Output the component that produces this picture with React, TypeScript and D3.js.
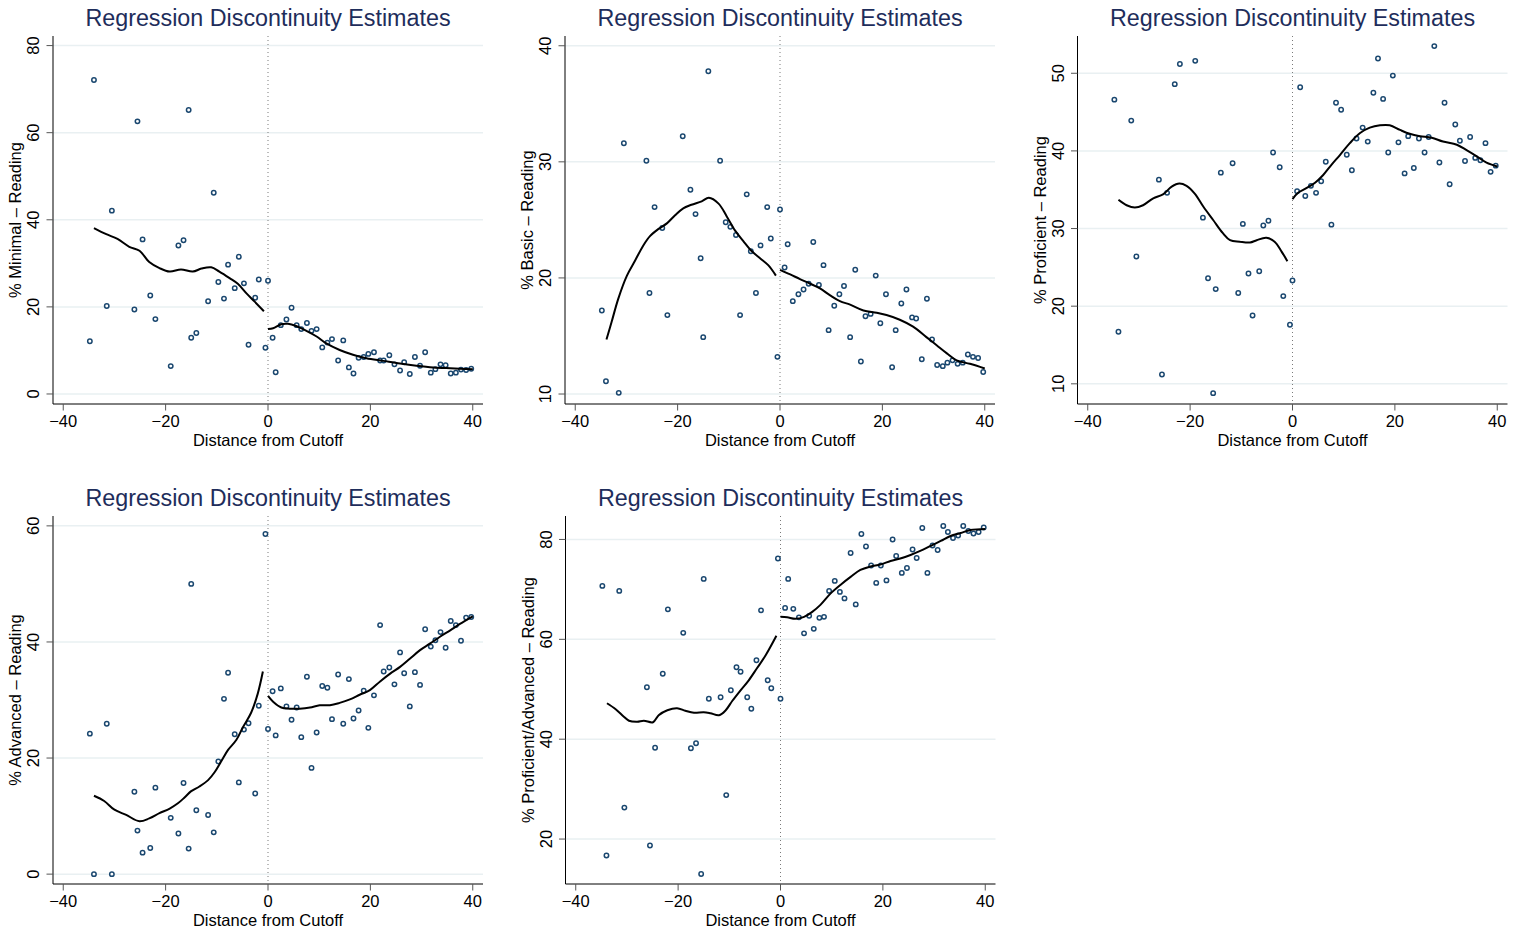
import React from "react";
import * as d3 from "d3";

// Shared bin positions (distance from cutoff)
const distance = [
  -34.8, -34.0, -31.5, -30.5, -26.1, -25.5, -24.5, -23.0, -22.0, -19.0,
  -17.5, -16.5, -15.5, -15.0, -14.0, -11.7, -10.6, -9.7, -8.6, -7.8,
  -6.5, -5.7, -4.7, -3.8, -2.5, -1.8, -0.5, 0,
  0.9, 1.5, 2.5, 3.6, 4.6, 5.6, 6.5, 7.6, 8.5, 9.5,
  10.6, 11.6, 12.5, 13.7, 14.7, 15.8, 16.7, 17.7, 18.7, 19.6,
  20.7, 21.9, 22.6, 23.7, 24.7, 25.8, 26.6, 27.7, 28.7, 29.7,
  30.7, 31.8, 32.7, 33.7, 34.7, 35.7, 36.7, 37.7, 38.7, 39.7,
];

const minimal = [
  12.1, 72.1, 20.2, 42.1, 19.4, 62.6, 35.5, 22.6, 17.2, 6.4,
  34.1, 35.3, 65.2, 12.9, 14.0, 21.3, 46.2, 25.7, 21.9, 29.7,
  24.3, 31.5, 25.4, 11.3, 22.1, 26.3, 10.6, 26.0,
  12.9, 5.0, 15.8, 17.1, 19.8, 15.8, 14.9, 16.3, 14.5, 14.9,
  10.7, 11.8, 12.6, 7.7, 12.3, 6.1, 4.7, 8.3, 8.5, 9.2,
  9.6, 7.7, 7.7, 8.9, 6.8, 5.4, 7.3, 4.6, 8.5, 6.5,
  9.6, 4.9, 5.7, 6.8, 6.6, 4.7, 4.9, 5.6, 5.5, 5.8,
];

const basic = [
  17.2, 11.1, 10.1, 31.6, 30.1, 18.7, 26.1, 24.3, 16.8, 32.2,
  27.6, 25.5, 21.7, 14.9, 37.8, 30.1, 24.8, 24.4, 23.7, 16.8,
  27.2, 22.3, 18.7, 22.8, 26.1, 23.4, 13.2, 25.9,
  20.9, 22.9, 18.0, 18.6, 19.0, 19.5, 23.1, 19.4, 21.1, 15.5,
  17.6, 18.6, 19.3, 14.9, 20.7, 12.8, 16.7, 16.9, 20.2, 16.1,
  18.6, 12.3, 15.5, 17.8, 19.0, 16.6, 16.5, 13.0, 18.2, 14.7,
  12.5, 12.4, 12.7, 12.9, 12.6, 12.7, 13.4, 13.2, 13.1, 11.9,
];

const proficient = [
  46.6, 16.7, 43.9, 26.4, 36.3, 11.2, 34.6, 48.6, 51.2, 51.6,
  31.4, 23.6, 8.8, 22.2, 37.2, 38.4, 21.7, 30.6, 24.2, 18.8,
  24.5, 30.4, 31.0, 39.8, 37.9, 21.3, 17.6, 23.3,
  34.8, 48.2, 34.2, 35.5, 34.6, 36.1, 38.6, 30.5, 46.2, 45.3,
  39.5, 37.5, 41.6, 43.0, 41.2, 47.5, 51.9, 46.7, 39.8, 49.7,
  41.1, 37.1, 41.9, 37.8, 41.6, 39.8, 41.8, 53.5, 38.5, 46.2,
  35.7, 43.4, 41.3, 38.7, 41.8, 39.1, 38.8, 41.0, 37.3, 38.1,
];

const advanced = [
  24.2, 0, 25.9, 0, 14.2, 7.5, 3.7, 4.5, 14.9, 9.7,
  7.0, 15.7, 4.4, 50.0, 11.0, 10.2, 7.2, 19.4, 30.2, 34.7,
  24.1, 15.8, 24.9, 26.0, 13.9, 29.0, 58.6, 25.0,
  31.5, 23.9, 32.0, 28.9, 26.6, 28.7, 23.6, 34.0, 18.3, 24.4,
  32.4, 32.1, 26.7, 34.4, 25.9, 33.6, 26.8, 28.2, 31.6, 25.2,
  30.8, 42.9, 34.9, 35.6, 32.7, 38.2, 34.6, 28.9, 34.8, 32.6,
  42.2, 39.2, 40.3, 41.7, 39.0, 43.6, 42.9, 40.2, 44.2, 44.3,
];

const profAdv = [
  70.7, 16.7, 69.7, 26.3, 50.4, 18.7, 38.3, 53.1, 66.0, 61.3,
  38.2, 39.2, 13.0, 72.1, 48.1, 48.4, 28.8, 49.8, 54.4, 53.5,
  48.4, 46.1, 55.8, 65.8, 51.8, 50.2, 76.2, 48.1,
  66.3, 72.1, 66.1, 64.4, 61.2, 64.7, 62.1, 64.3, 64.5, 69.7,
  71.7, 69.5, 68.2, 77.3, 67.0, 81.1, 78.6, 74.8, 71.3, 74.8,
  71.8, 80.0, 76.7, 73.3, 74.3, 78.0, 76.3, 82.3, 73.3, 78.8,
  77.9, 82.7, 81.5, 80.3, 80.8, 82.7, 81.7, 81.2, 81.5, 82.4,
];

type Pt = [number, number];

const minimalFitLeft: Pt[] = [[-34,38.1],[-31.6,36.7],[-29.4,35.6],[-27.1,33.8],[-25.1,32.9],[-23.2,30.3],[-21.2,28.9],[-19.2,28.1],[-17,28.6],[-14.7,28.1],[-13,28.8],[-11.1,29.1],[-9.5,28.1],[-7.5,26.6],[-5.9,25.3],[-4.2,23.1],[-2.6,21.2],[-0.8,19.0]];
const minimalFitRight: Pt[] = [[0,14.9],[1,15.1],[2.6,16.0],[3.9,16.1],[5.5,15.6],[7.5,14.5],[9.5,13.2],[11.4,11.6],[14,10.1],[16.6,9.0],[19.2,8.2],[22.5,7.6],[25.8,7.0],[29,6.5],[32.3,6.1],[35.6,5.9],[40,5.7]];

const basicFitLeft: Pt[] = [[-33.9,14.7],[-32.9,16.2],[-31.6,18.2],[-29.9,20.2],[-28.3,21.5],[-26.7,22.8],[-25.4,23.6],[-23.8,24.2],[-22.1,24.7],[-20.5,25.4],[-18.9,26.0],[-17.3,26.3],[-15.3,26.6],[-13.9,26.9],[-12.0,26.4],[-10.4,25.3],[-8.8,24.1],[-7.2,23.2],[-5.5,22.3],[-3.9,21.7],[-2.3,21.1],[-0.8,20.2]];
const basicFitRight: Pt[] = [[0,20.7],[2,20.3],[3.9,19.9],[5.9,19.5],[7.8,19.1],[9.8,18.5],[11.7,18.0],[13.7,17.7],[16.3,17.2],[18.9,17.0],[20.8,16.8],[23.4,16.4],[26.0,15.8],[28.6,14.9],[30.6,14.2],[32.6,13.5],[34.5,12.9],[37.1,12.6],[40,12.2]];

const proficientFitLeft: Pt[] = [[-34,33.7],[-32.4,33.0],[-30.8,32.7],[-29.2,33.0],[-27.2,33.9],[-25.3,34.4],[-23.6,35.4],[-22.1,35.8],[-20.7,35.5],[-19.1,34.5],[-17.4,32.8],[-15.5,31.1],[-13.6,29.4],[-12.2,28.5],[-10.3,28.3],[-8.3,28.2],[-7.0,28.5],[-5.1,28.8],[-3.5,28.3],[-2.1,27.0],[-1.0,25.8]];
const proficientFitRight: Pt[] = [[0,33.8],[1.1,34.6],[2.7,35.2],[4.4,35.9],[6.0,36.9],[7.6,38.2],[9.3,39.5],[11.2,41.0],[13.2,42.3],[15.1,43.0],[17.1,43.3],[19.0,43.3],[21.0,42.7],[22.9,42.2],[24.9,41.9],[27.2,41.7],[29.4,41.2],[32.1,40.8],[34.0,40.1],[36.0,39.3],[37.9,38.5],[40,38.0]];

const advancedFitLeft: Pt[] = [[-34,13.5],[-32,12.6],[-30,11.1],[-27.7,10.2],[-25.1,9.1],[-23.2,9.6],[-21.2,10.5],[-19.2,11.3],[-17.6,12.2],[-16.3,13.2],[-15,14.3],[-13.4,15.1],[-11.7,16.2],[-10.4,17.6],[-9.1,19.5],[-7.8,21.4],[-6.2,23.1],[-4.9,25.3],[-3.3,27.8],[-2.0,31.1],[-1.0,34.9]];
const advancedFitRight: Pt[] = [[0,30.7],[1,29.7],[2.6,28.7],[4.2,28.5],[6.2,28.5],[8.2,28.7],[10.1,29.1],[12.1,29.1],[14,29.5],[16,30.1],[17.9,30.9],[19.9,31.7],[21.9,33.2],[23.8,34.5],[25.8,35.7],[27.7,37.1],[29.7,38.6],[31.6,39.7],[33.6,40.9],[35.6,42.0],[37.5,43.1],[40,44.4]];

const profAdvFitLeft: Pt[] = [[-33.9,47.2],[-32.2,46.0],[-30.6,44.5],[-29.6,43.7],[-28,43.5],[-26.7,43.7],[-24.9,43.4],[-23.8,44.8],[-22.1,45.8],[-20.2,46.2],[-18.6,45.7],[-16.9,45.3],[-15,45.4],[-13.7,45.2],[-12,44.8],[-10.7,45.8],[-9.4,47.7],[-7.8,49.8],[-6.2,51.8],[-4.6,54.2],[-2.9,56.8],[-0.8,60.7]];
const profAdvFitRight: Pt[] = [[0,64.5],[1.3,64.4],[2.9,64.1],[4.6,64.5],[6.2,65.5],[7.8,66.9],[9.8,69.2],[11.7,70.9],[13.7,72.5],[15.6,73.9],[17.6,74.6],[19.5,75.0],[21.5,75.7],[23.4,76.2],[25.4,76.9],[27.3,77.7],[29.3,78.7],[31.3,79.7],[33.2,80.7],[35.2,81.3],[37.1,81.9],[40,82.1]];

const xTicks = [-40, -20, 0, 20, 40];
const titleText = "Regression Discontinuity Estimates";
const xTitle = "Distance from Cutoff";

interface PanelSpec {
  label: string;
  values: number[];
  fitLeft: Pt[];
  fitRight: Pt[];
  yTicks: number[];
  yDomain: [number, number];
  frame: { left: number; right: number; top: number; bottom: number };
}

const panels: PanelSpec[] = [
  { label: "% Minimal – Reading", values: minimal, fitLeft: minimalFitLeft, fitRight: minimalFitRight,
    yTicks: [0, 20, 40, 60, 80], yDomain: [-2.3, 82.2], frame: { left: 53, right: 483, top: 36, bottom: 404 } },
  { label: "% Basic – Reading", values: basic, fitLeft: basicFitLeft, fitRight: basicFitRight,
    yTicks: [10, 20, 30, 40], yDomain: [9.14, 40.84], frame: { left: 565, right: 995, top: 36, bottom: 404 } },
  { label: "% Proficient – Reading", values: proficient, fitLeft: proficientFitLeft, fitRight: proficientFitRight,
    yTicks: [10, 20, 30, 40, 50], yDomain: [7.4, 54.8], frame: { left: 1077.5, right: 1507.5, top: 36, bottom: 404 } },
  { label: "% Advanced – Reading", values: advanced, fitLeft: advancedFitLeft, fitRight: advancedFitRight,
    yTicks: [0, 20, 40, 60], yDomain: [-1.7, 61.7], frame: { left: 53, right: 483, top: 516, bottom: 884 } },
  { label: "% Proficient/Advanced – Reading", values: profAdv, fitLeft: profAdvFitLeft, fitRight: profAdvFitRight,
    yTicks: [20, 40, 60, 80], yDomain: [11, 84.7], frame: { left: 565.5, right: 995.5, top: 516, bottom: 884 } },
];

const FONT = "'Liberation Sans', Arial, Helvetica, sans-serif";
const fmt = (v: number) => (v < 0 ? "\u2212" + Math.abs(v) : String(v));

function Panel({ p }: { p: PanelSpec }) {
  const { left, right, top, bottom } = p.frame;
  const x = d3.scaleLinear().domain([-42, 42]).range([left, right]);
  const y = d3.scaleLinear().domain(p.yDomain).range([bottom, top]);
  const line = d3
    .line<Pt>()
    .x((d) => x(d[0]))
    .y((d) => y(d[1]))
    .curve(d3.curveCatmullRom.alpha(0.5));
  const cx = (left + right) / 2;
  const cy = (top + bottom) / 2;
  return (
    <g>
      <text x={cx} y={top - 10} textAnchor="middle" fontFamily={FONT} fontSize={23.3} fill="#1e2d5b">
        {titleText}
      </text>
      {p.yTicks.map((t) => (
        <line key={"g" + t} x1={left} x2={right} y1={y(t)} y2={y(t)} stroke="#e9f0f2" strokeWidth={1.5} />
      ))}
      <line x1={x(0)} x2={x(0)} y1={top} y2={bottom} stroke="#7a7a7a" strokeWidth={1} strokeDasharray="1 3" />
      {distance.map((d, i) => (
        <circle key={i} cx={x(d)} cy={y(p.values[i])} r={2.2} fill="#ffffff" stroke="#1a476f" strokeWidth={1.5} />
      ))}
      <path d={line(p.fitLeft) || ""} fill="none" stroke="#000" strokeWidth={2} strokeLinejoin="round" />
      <path d={line(p.fitRight) || ""} fill="none" stroke="#000" strokeWidth={2} strokeLinejoin="round" />
      <line x1={left} x2={left} y1={top} y2={bottom} stroke="#000" strokeWidth={1} />
      <line x1={left} x2={right} y1={bottom} y2={bottom} stroke="#000" strokeWidth={1} />
      {xTicks.map((t) => (
        <g key={"x" + t}>
          <line x1={x(t)} x2={x(t)} y1={bottom} y2={bottom + 6.5} stroke="#555" strokeWidth={1} />
          <text x={x(t)} y={bottom + 22.5} textAnchor="middle" fontFamily={FONT} fontSize={16.5} fill="#000">
            {fmt(t)}
          </text>
        </g>
      ))}
      {p.yTicks.map((t) => (
        <g key={"y" + t}>
          <line x1={left - 6.5} x2={left} y1={y(t)} y2={y(t)} stroke="#555" strokeWidth={1} />
          <text
            transform={`translate(${left - 14},${y(t)}) rotate(-90)`}
            textAnchor="middle"
            fontFamily={FONT}
            fontSize={16.5}
            fill="#000"
          >
            {fmt(t)}
          </text>
        </g>
      ))}
      <text x={cx} y={bottom + 41.5} textAnchor="middle" fontFamily={FONT} fontSize={16.5} fill="#000">
        {xTitle}
      </text>
      <text
        transform={`translate(${left - 32},${cy}) rotate(-90)`}
        textAnchor="middle"
        fontFamily={FONT}
        fontSize={16.5}
        fill="#000"
      >
        {p.label}
      </text>
    </g>
  );
}

export default function App() {
  return (
    <svg
      width={1521}
      height={928}
      viewBox="0 0 1521 928"
      style={{ position: "absolute", left: 0, top: 0, background: "#fff" }}
    >
      <rect x={0} y={0} width={1521} height={928} fill="#fff" />
      {panels.map((p, i) => (
        <Panel key={i} p={p} />
      ))}
    </svg>
  );
}
